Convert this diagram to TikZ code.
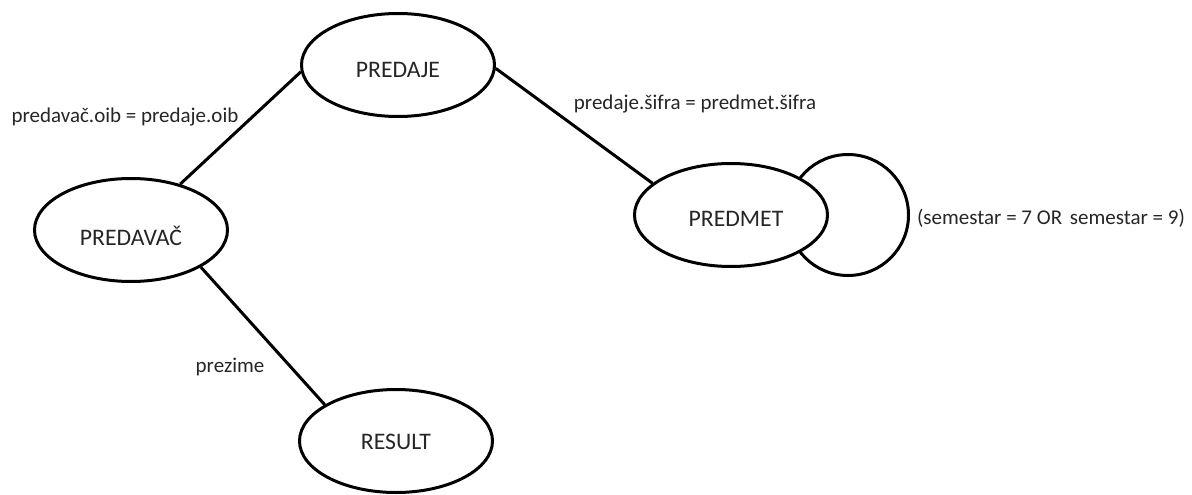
\documentclass[tikz,border=0pt]{standalone}
\usepackage{fontspec}
\setmainfont{Carlito}
\usetikzlibrary{shapes.geometric}
\definecolor{txt}{HTML}{262626}
\newcommand{\lowered}[2]{\raisebox{-#1}[\height][0pt]{#2}}
\begin{document}
\begin{tikzpicture}[x=1pt,y=-1pt,
  rel/.style={ellipse, draw=black, line width=3pt, fill=white, minimum width=193pt, minimum height=103pt, inner sep=0pt, text=txt, font=\fontsize{23.7}{28}\selectfont},
  lbl/.style={inner sep=0pt, text=txt, font=\fontsize{21}{25}\selectfont},
  conn/.style={line width=3pt}]
\useasboundingbox (0,0) rectangle (1192,495);
% self-loop behind PREDMET
\node[circle, draw=black, line width=3pt, minimum size=121pt, inner sep=0pt] (loop) at (848,215) {};
\node[rel] (pj) at (398,65) {\lowered{5pt}{PREDAJE}};
\node[rel] (pv) at (131,230) {\lowered{6pt}{PREDAVAČ}};
\node[rel] (pm) at (731,215) {\lowered{4pt}{\hspace{10pt}PREDMET}};
\node[rel] (rs) at (396,441) {\lowered{1pt}{RESULT}};
\draw[conn] (pv.43) -- (pj.184);
\draw[conn] (pj.-2) -- (pm.158);
\draw[conn] (pv.-28) -- (rs.153);
\node[lbl] (l1) at (125,117) {predavač.oib = predaje.oib};
\node[lbl] (l2) at (695,104) {predaje.šifra = predmet.šifra};
\node[lbl] (l3) at (1051,218) {(semestar = 7 OR\hspace{3pt} semestar = 9)};
\node[lbl] (l4) at (230,367) {prezime};
\end{tikzpicture}
\end{document}
